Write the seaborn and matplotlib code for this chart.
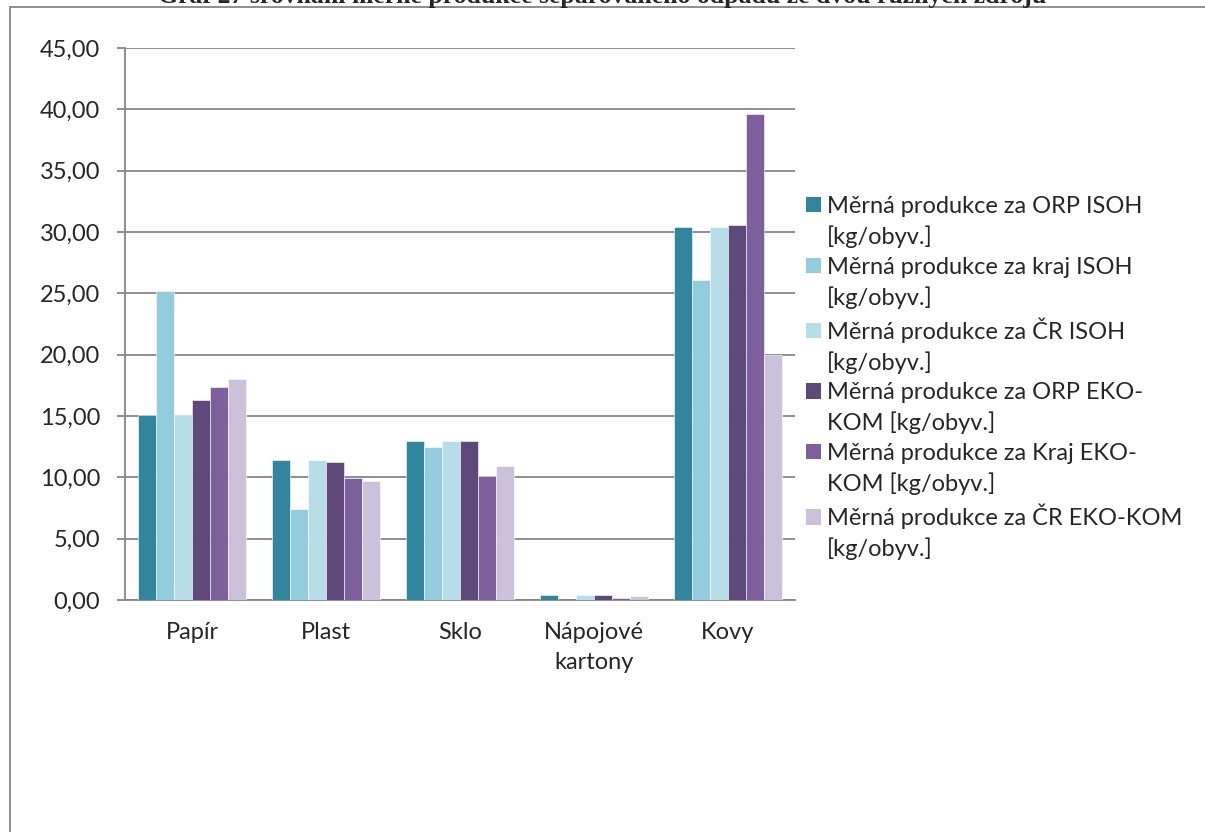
import pandas as pd
import matplotlib.pyplot as plt
import seaborn as sns
from matplotlib.patches import Patch
from matplotlib.lines import Line2D
from matplotlib.ticker import FuncFormatter

categories = ['Papír', 'Plast', 'Sklo', 'Nápojové\nkartony', 'Kovy']
series = ['Měrná produkce za ORP ISOH [kg/obyv.]',
          'Měrná produkce za kraj ISOH [kg/obyv.]',
          'Měrná produkce za ČR ISOH [kg/obyv.]',
          'Měrná produkce za ORP EKO-KOM [kg/obyv.]',
          'Měrná produkce za Kraj EKO-KOM [kg/obyv.]',
          'Měrná produkce za ČR EKO-KOM [kg/obyv.]']
# legend text as wrapped in the original
legend_lines = [('Měrná produkce za ORP ISOH', '[kg/obyv.]'),
                ('Měrná produkce za kraj ISOH', '[kg/obyv.]'),
                ('Měrná produkce za ČR ISOH', '[kg/obyv.]'),
                ('Měrná produkce za ORP EKO-', 'KOM [kg/obyv.]'),
                ('Měrná produkce za Kraj EKO-', 'KOM [kg/obyv.]'),
                ('Měrná produkce za ČR EKO-KOM', '[kg/obyv.]')]

orp_isoh = [15.05, 11.45, 13.00, 0.45, 30.40]
kraj_isoh = [25.20, 7.43, 12.51, 0.00, 26.10]
cr_isoh = [15.05, 11.45, 12.95, 0.43, 30.40]
orp_eko = [16.30, 11.29, 12.95, 0.38, 30.60]
kraj_eko = [17.40, 9.96, 10.12, 0.19, 39.65]
cr_eko = [18.05, 9.69, 10.93, 0.30, 20.00]

colors = ['#31859C', '#93CDDD', '#B7DEE8', '#5F497A', '#7D5F9B', '#CCC1DA']

rows = []
for s, vals in zip(series, [orp_isoh, kraj_isoh, cr_isoh, orp_eko, kraj_eko, cr_eko]):
    for c, v in zip(categories, vals):
        rows.append({'kategorie': c, 'serie': s, 'hodnota': v})
df = pd.DataFrame(rows)

sns.set_style('white')
plt.rcParams['font.family'] = ['Lato', 'DejaVu Sans']
fs = 17

fig = plt.figure(figsize=(12.05, 8.32), dpi=100)
ax = fig.add_axes([0.1037, 0.2788, 0.556, 0.6635])

sns.barplot(data=df, x='kategorie', y='hodnota', hue='serie', order=categories,
            hue_order=series, palette=colors, saturation=1, width=0.8, ax=ax,
            edgecolor='white', linewidth=0.4, legend=False, zorder=3)

gray = '#868686'
ax.set_ylim(0, 45)
ax.set_xlim(-0.5, 4.5)
ax.set_yticks(range(0, 46, 5))
ax.yaxis.set_major_formatter(FuncFormatter(lambda v, p: f'{v:.2f}'.replace('.', ',')))
ax.yaxis.grid(True, color=gray, linewidth=1.3, zorder=0)
ax.set_axisbelow(True)
ax.set_xlabel('')
ax.set_ylabel('')
for sp in ['top', 'right']:
    ax.spines[sp].set_visible(False)
for sp in ['left', 'bottom']:
    ax.spines[sp].set_color(gray)
    ax.spines[sp].set_linewidth(1.3)

ax.set_xticks([i - 0.5 for i in range(6)], minor=True)
ax.tick_params(axis='x', which='major', length=0, pad=16, labelsize=fs)
ax.tick_params(axis='x', which='minor', length=6, width=1.3, color=gray, direction='out')
ax.tick_params(axis='y', length=6, width=1.3, color=gray, pad=12, labelsize=fs, left=True)
for lbl in ax.get_xticklabels():
    lbl.set_linespacing(1.5)

handles, labels = [], []
for col, (l1, l2) in zip(colors, legend_lines):
    handles.append(Patch(facecolor=col, edgecolor='none'))
    labels.append(l1)
    handles.append(Line2D([], [], alpha=0))
    labels.append(l2)
fig.legend(handles, labels, loc='upper left', bbox_to_anchor=(806 / 1205, 1 - 196 / 832),
           frameon=False, fontsize=fs, handlelength=0.63, handleheight=0.63,
           handletextpad=0.25, labelspacing=0.36, borderpad=0, borderaxespad=0)

# outer chart frame (cut by the page)
fig.add_artist(Line2D([10 / 1205, 10 / 1205], [0, 1 - 7 / 832], color=gray, linewidth=1.3))
fig.add_artist(Line2D([10 / 1205, 1], [1 - 7 / 832, 1 - 7 / 832], color=gray, linewidth=1.3))

fig.text(0.5, 1 - 3 / 832, 'Graf 27 srovnání měrné produkce separovaného odpadu ze dvou různých zdrojů',
         ha='center', va='baseline', fontsize=18.5, fontweight='bold', family='Liberation Serif')

fig.savefig('out.png', dpi=100)
